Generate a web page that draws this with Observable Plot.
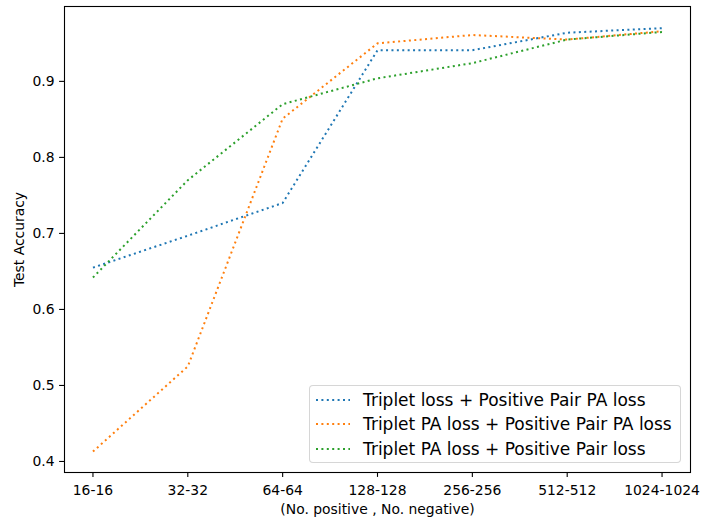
<!DOCTYPE html>
<html>
<head>
<meta charset="utf-8">
<script src="https://cdn.jsdelivr.net/npm/d3@7"></script>
<script src="https://cdn.jsdelivr.net/npm/@observablehq/plot@0.6"></script>
<style>
  html, body { margin: 0; padding: 0; background: #fff; }
  #wrap { position: relative; width: 701px; height: 519px; font-family: "DejaVu Sans", sans-serif; }
  #legend { position: absolute; left: 309px; top: 385px; width: 372px; height: 78px;
    border: 1px solid rgba(204,204,204,0.8); border-radius: 4px; background: rgba(255,255,255,0.8);
    box-sizing: border-box; font-size: 17px; color: #000; }
  .row { position: absolute; left: 0; height: 20px; display: flex; align-items: center; white-space: nowrap; }
  .row svg { margin-left: 6px; margin-right: 13px; }
</style>
</head>
<body>
<div id="wrap"></div>
<script>
const categories = ["16-16", "32-32", "64-64", "128-128", "256-256", "512-512", "1024-1024"];
const seriesNames = [
  "Triplet loss + Positive Pair PA loss",
  "Triplet PA loss + Positive Pair PA loss",
  "Triplet PA loss + Positive Pair loss"
];
const blueValues   = [0.655, 0.697, 0.740, 0.941, 0.941, 0.964, 0.970];
const orangeValues = [0.413, 0.525, 0.851, 0.950, 0.961, 0.955, 0.966];
const greenValues  = [0.642, 0.770, 0.870, 0.904, 0.924, 0.955, 0.965];
const colors = ["#1f77b4", "#ff7f0e", "#2ca02c"];
const yTicks = [0.4, 0.5, 0.6, 0.7, 0.8, 0.9];

const allSeries = [blueValues, orangeValues, greenValues];
const data = allSeries.flatMap((vals, s) => vals.map((v, i) => ({i, v, s: seriesNames[s]})));

const plot = Plot.plot({
  width: 701,
  height: 519,
  marginLeft: 64,
  marginRight: 11,
  marginTop: 6,
  marginBottom: 47,
  style: {fontFamily: "DejaVu Sans, sans-serif", fontSize: "13.9px", color: "#000", background: "#fff"},
  x: {domain: [-0.3, 6.3], ticks: categories.map((c, i) => i), tickFormat: i => categories[i]},
  y: {domain: [0.3855, 0.9985], ticks: yTicks, tickFormat: d => d.toFixed(1)},
  color: {domain: seriesNames, range: colors},
  marks: [
    Plot.frame({stroke: "#000", strokeWidth: 1.1, strokeOpacity: 1}),
    Plot.axisX({ticks: categories.map((c, i) => i), tickFormat: i => categories[i], tickSize: 4.9, tickPadding: 8,
      strokeWidth: 1.1, fontSize: 13.9, label: "(No. positive , No. negative)", labelAnchor: "center", labelArrow: "none", labelOffset: 41}),
    Plot.axisY({ticks: yTicks, tickFormat: d => d.toFixed(1), tickSize: 4.9, tickPadding: 5,
      strokeWidth: 1.1, fontSize: 13.9, label: "Test Accuracy", labelAnchor: "center", labelArrow: "none", labelOffset: 50}),
    Plot.line(data, {x: "i", y: "v", z: "s", stroke: "s", strokeWidth: 2, strokeDasharray: "2,3.4", strokeLinecap: "butt"})
  ]
});
const wrap = document.getElementById("wrap");
wrap.appendChild(plot);

const legend = document.createElement("div");
legend.id = "legend";
const rowTops = [4, 28, 53];
seriesNames.forEach((name, k) => {
  const row = document.createElement("div");
  row.className = "row";
  row.style.top = rowTops[k] + "px";
  row.innerHTML = `<svg width="34" height="4"><line x1="0" y1="2" x2="34" y2="2" stroke="${colors[k]}" stroke-width="2" stroke-dasharray="2,3.4"/></svg><span>${name}</span>`;
  legend.appendChild(row);
});
wrap.appendChild(legend);
</script>
</body>
</html>
